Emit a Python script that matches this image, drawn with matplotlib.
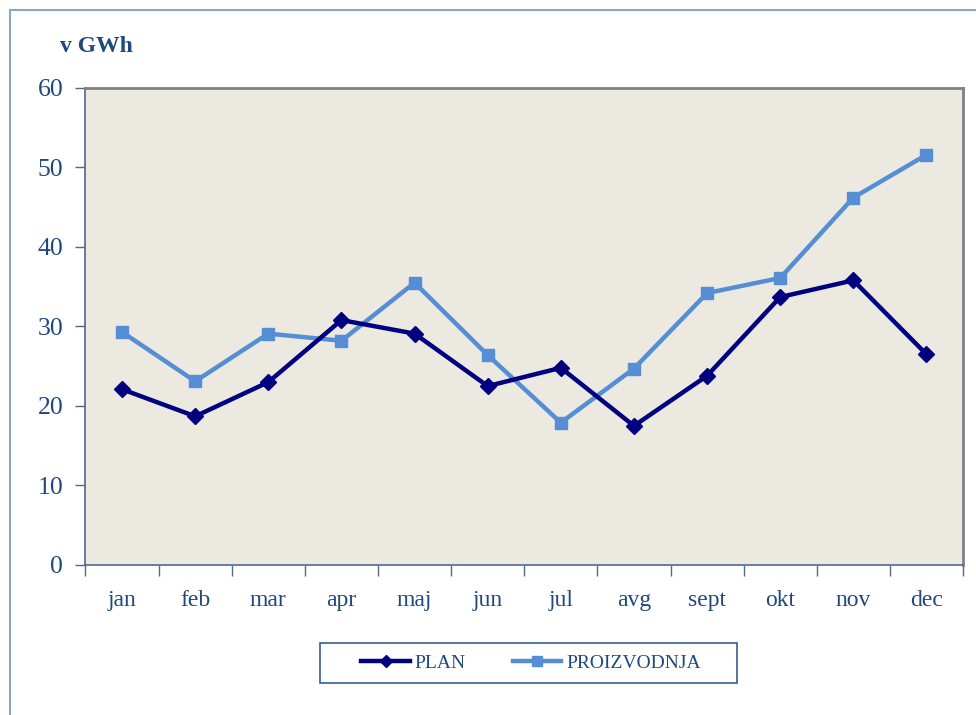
import matplotlib.pyplot as plt
from matplotlib.patches import Rectangle
from matplotlib.lines import Line2D

# podatki
meseci = ["jan", "feb", "mar", "apr", "maj", "jun", "jul", "avg", "sept", "okt", "nov", "dec"]
plan = [22.1, 18.7, 23.0, 30.8, 29.1, 22.5, 24.8, 17.5, 23.8, 33.7, 35.8, 26.5]
proizvodnja = [29.3, 23.1, 29.1, 28.2, 35.5, 26.4, 17.9, 24.7, 34.2, 36.1, 46.2, 51.6]

txt_color = "#1f497d"
plt.rcParams["font.family"] = ["Liberation Serif", "DejaVu Serif"]

W, H = 976, 715
fig = plt.figure(figsize=(W / 100, H / 100), dpi=100)
ax = fig.add_axes([0.0876, 0.2098, 0.8991, 0.6672])
ax.set_facecolor("#eceae0")

x = range(len(meseci))
ax.plot(x, proizvodnja, color="#558ed5", lw=3.2, marker="s", ms=9, label="PROIZVODNJA", zorder=3)
ax.plot(x, plan, color="#000080", lw=3.2, marker="D", ms=8.5, label="PLAN", zorder=4)

ax.set_xlim(-0.5, 11.5)
ax.set_ylim(0, 60)
ax.set_yticks(range(0, 61, 10))
ax.set_xticks(list(x))
ax.set_xticklabels(meseci)
ax.set_xticks([i - 0.5 for i in range(13)], minor=True)
ax.tick_params(axis="x", which="major", length=0, pad=18, labelsize=17, labelcolor=txt_color)
ax.tick_params(axis="x", which="minor", length=8, color="#4f6a8f", width=1)
ax.tick_params(axis="y", length=7, color="#4f6a8f", width=1, pad=9, labelsize=18.5, labelcolor=txt_color)

for s in ["left", "bottom"]:
    ax.spines[s].set_color("#4f6a8f")
    ax.spines[s].set_linewidth(1.2)
for s in ["top", "right"]:
    ax.spines[s].set_color("#808080")
    ax.spines[s].set_linewidth(2)

fig.text(0.061, 1 - 47 / H, "v GWh", fontsize=17, fontweight="bold", color=txt_color, va="center")

# okvir grafa
fig.patches.append(Rectangle((10 / W, -0.1), 1.1, 1.1 - 10 / H, transform=fig.transFigure,
                             fill=False, edgecolor="#8aa4c4", lw=1.5))
# okvir legende
fig.patches.append(Rectangle((320 / W, 1 - 683 / H), 417 / W, 40 / H, transform=fig.transFigure,
                             fill=False, edgecolor="#385d8a", lw=1.2))

handles = [
    Line2D([], [], color="#000080", lw=3.2, marker="D", ms=6),
    Line2D([], [], color="#558ed5", lw=3.2, marker="s", ms=7),
]
leg = fig.legend(handles, ["PLAN", "PROIZVODNJA"], loc="center", bbox_to_anchor=(531 / W, 1 - 663 / H),
                 ncol=2, frameon=False, fontsize=14, handlelength=2.5, handletextpad=0.25,
                 columnspacing=2.4, labelcolor=txt_color)

fig.savefig("out.png", dpi=100)
